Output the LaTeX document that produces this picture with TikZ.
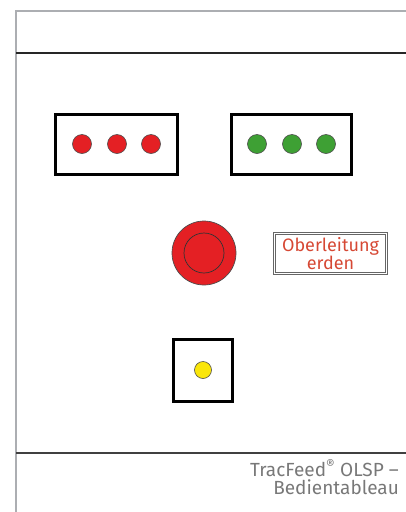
\documentclass[tikz,border=0pt]{standalone}
\usepackage{fontspec}
\setmainfont{Fira Sans}
\usepackage{tikz}

\definecolor{lampred}{RGB}{228,32,36}
\definecolor{lampgreen}{RGB}{62,160,52}
\definecolor{lampyellow}{RGB}{250,230,10}
\definecolor{labelred}{RGB}{214,72,52}
\definecolor{framegray}{RGB}{172,174,178}
\definecolor{captiongray}{RGB}{120,120,120}

\tikzset{
  panel/.style={draw=black, line width=3pt, rectangle, inner sep=0pt},
  lamp/.style={circle, draw=black!70, line width=0.6pt, minimum size=19pt, inner sep=0pt},
}

\begin{document}
\begin{tikzpicture}[x=1pt, y=-1pt]
				\useasboundingbox (0,0) rectangle (406,512);
				
				% Frame
				\draw[framegray, line width=1.2pt] (16,512) -- (16,11) -- (406,11);
				\draw[black!85, line width=1.6pt] (16,53) -- (406,53); % head line
				\draw[black!75, line width=1.2pt] (16,453) -- (406,453); % foot line
				
				% Lamp panels
				\node[panel, minimum width=122pt, minimum height=60pt] (redpanel) at (116.5,144.5) {};
				\node[panel, minimum width=120pt, minimum height=60pt] (greenpanel) at (291.5,144.5) {};
				
				\node[lamp, fill=lampred] (red1) at (82,144) {};
				\node[lamp, fill=lampred] (red2) at (117,144) {};
				\node[lamp, fill=lampred] (red3) at (151,144) {};
				
				\node[lamp, fill=lampgreen] (green1) at (257,144) {};
				\node[lamp, fill=lampgreen] (green2) at (292,144) {};
				\node[lamp, fill=lampgreen] (green3) at (326,144) {};
				
				% Push button
				\node[circle, draw=black!70, line width=0.7pt, fill=lampred, minimum size=64pt, inner sep=0pt] (button) at (204,253) {};
				\node[circle, draw=black!80, line width=0.7pt, fill=lampred, minimum size=40pt, inner sep=0pt] (buttoncap) at (button.center) {};
				
				% Label
				\node[draw=black!60, double=white, double distance=1.4pt, line width=1pt, minimum width=112pt, minimum height=40pt, inner sep=0pt, align=center, text=labelred, font=\fontsize{18}{17}\selectfont] (label) at (330.5,253.5) {Oberleitung\\[-1pt]erden};
				
				% Key switch
				\node[panel, minimum width=59pt, minimum height=62pt] (keypanel) at (203,370.5) {};
				\node[lamp, minimum size=17pt, fill=lampyellow] (yellow) at (203,370) {};
				
				% Caption
				\node[anchor=base east, inner sep=0pt, align=right, text=captiongray, font=\fontsize{19}{18}\selectfont] (caption) at (399,494) {TracFeed\textsuperscript{®} OLSP –\\Bedientableau};
			\end{tikzpicture}
\end{document}
